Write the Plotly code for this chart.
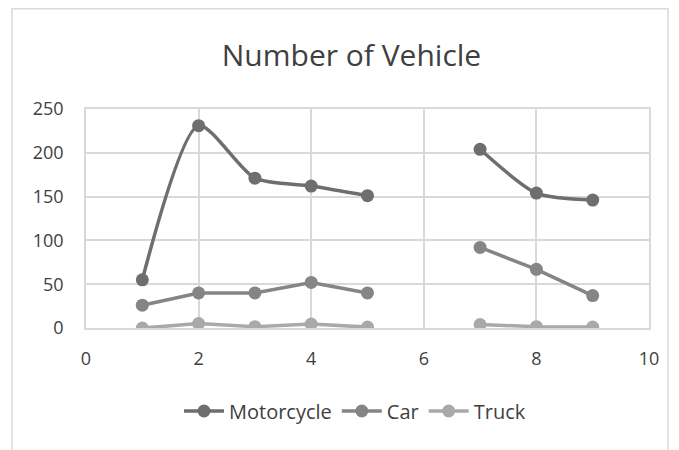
import plotly.graph_objects as go

x_vals = [1, 2, 3, 4, 5, 6, 7, 8, 9]
motorcycle = [55, 231, 171, 162, 151, None, 204, 154, 146]
car = [26, 40, 40, 52, 40, None, 92, 67, 37]
truck = [0, 5, 1.5, 4.5, 1, None, 4, 1.5, 1]
series_names = ["Motorcycle", "Car", "Truck"]
colors = ["#6e6e6e", "#858585", "#a9a9a9"]
title_text = "Number of Vehicle"

fig = go.Figure()
for name, vals, col in zip(series_names, [motorcycle, car, truck], colors):
    shape = "spline" if name == "Motorcycle" else "linear"
    fig.add_trace(go.Scatter(
        x=x_vals, y=vals, name=name, mode="lines+markers",
        line=dict(color=col, width=3.5, shape=shape, smoothing=0.7),
        marker=dict(color=col, size=13),
        connectgaps=False,
    ))

font_family = "Open Sans, sans-serif"
W, H = 671, 442
L, T, PW, PH = 78, 101, 563, 219
fig.update_layout(
    width=W, height=H,
    paper_bgcolor="white", plot_bgcolor="white",
    margin=dict(l=L, r=W - L - PW, t=T, b=H - T - PH),
    title=dict(text=title_text, x=(L + PW / 2 - 16) / W, xanchor="center", y=1 - 47 / H, yanchor="middle",
               font=dict(family=font_family, size=30, color="#404040")),
    font=dict(family=font_family, size=17, color="#404040"),
    xaxis=dict(range=[0, 10], tickvals=[0, 2, 4, 6, 8, 10], showgrid=True,
               gridcolor="#d9d9d9", gridwidth=1.5, zeroline=False,
               showline=True, linecolor="#d9d9d9", linewidth=1.5, mirror=True,
               ticks="", ticklen=0, ticklabelstandoff=14,
               tickfont=dict(size=18, color="#404040")),
    yaxis=dict(range=[0, 250], tickvals=[0, 50, 100, 150, 200, 250], showgrid=True,
               gridcolor="#d9d9d9", gridwidth=1.5, zeroline=False,
               showline=True, linecolor="#d9d9d9", linewidth=1.5, mirror=True,
               ticks="", ticklen=0, ticklabelstandoff=17,
               tickfont=dict(size=18, color="#404040")),
    legend=dict(orientation="h", x=(347 - L) / PW, xanchor="center",
                y=-83 / PH, yanchor="middle",
                font=dict(size=20, color="#404040"), itemwidth=40),
    showlegend=True,
    shapes=[dict(type="rect", xref="paper", yref="paper",
                 x0=-(L - 4) / PW, x1=(660 - L) / PW, y0=-(H - T - PH + 20) / PH, y1=(T + PH - 0.75) / PH,
                 line=dict(color="#d9d9d9", width=1.5), layer="below")],
)
fig.write_html("out.html")
